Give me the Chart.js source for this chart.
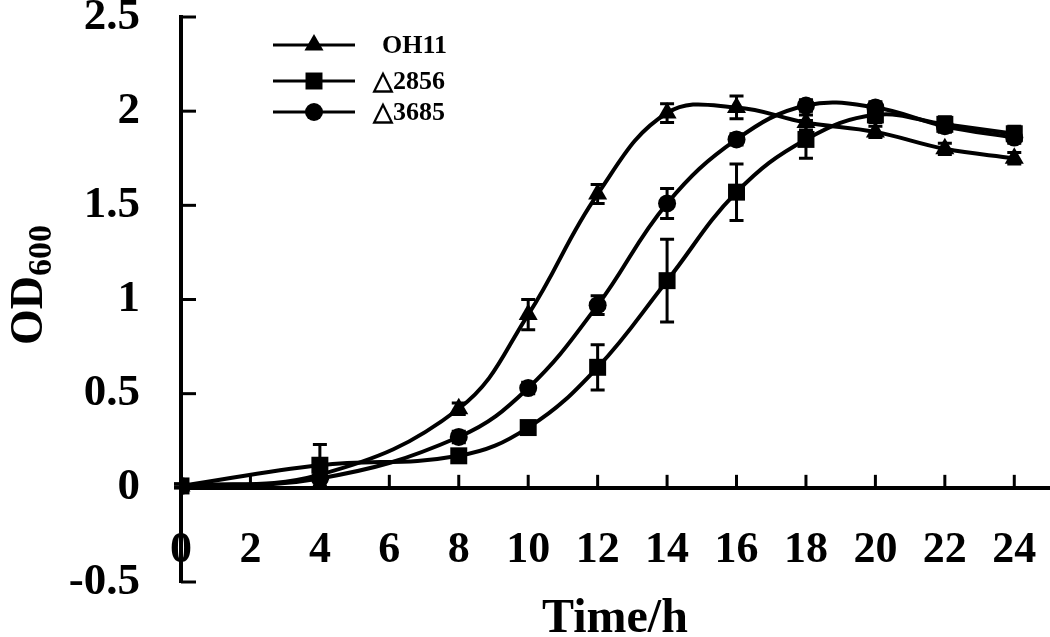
<!DOCTYPE html>
<html>
<head>
<meta charset="utf-8">
<script src="https://cdn.jsdelivr.net/npm/chart.js@4"></script>
<style>
  body { margin: 0; background: #fff; }
</style>
</head>
<body>
<canvas id="myChart" width="1050" height="637"></canvas>
<script>
const times = [0, 4, 8, 10, 12, 14, 16, 18, 20, 22, 24];
const oh11 = [0.01, 0.07, 0.42, 0.92, 1.56, 1.99, 2.02, 1.94, 1.89, 1.80, 1.75];
const d2856 = [0.01, 0.12, 0.17, 0.32, 0.64, 1.10, 1.57, 1.85, 1.98, 1.93, 1.88];
const d3685 = [0.01, 0.05, 0.27, 0.53, 0.97, 1.51, 1.85, 2.03, 2.02, 1.92, 1.86];
const errOh11 = [0.01, 0.02, 0.03, 0.08, 0.05, 0.05, 0.06, 0.04, 0.03, 0.03, 0.03];
const err2856 = [0.01, 0.11, 0.03, 0.03, 0.12, 0.22, 0.15, 0.10, 0.04, 0.04, 0.04];
const err3685 = [0.01, 0.02, 0.03, 0.03, 0.05, 0.08, 0.03, 0.03, 0.03, 0.03, 0.03];
const seriesNames = ['OH11', '\u25B32856', '\u25B33685'];
const xTicks = [0, 2, 4, 6, 8, 10, 12, 14, 16, 18, 20, 22, 24];
const yTicks = [-0.5, 0, 0.5, 1, 1.5, 2, 2.5];

const serif = "'Liberation Serif', 'Times New Roman', serif";
const shapes = ['triangle', 'rect', 'circle'];
const radii = [11, 12, 9];
const errs = [errOh11, err2856, err3685];

function makeSet(label, vals, i) {
  return {
    label: label,
    data: times.map((t, j) => ({x: t, y: vals[j]})),
    borderColor: '#000',
    backgroundColor: '#000',
    borderWidth: 4,
    pointStyle: shapes[i],
    pointRadius: radii[i],
    pointBorderWidth: 0,
    pointBackgroundColor: '#000',
    tension: 0.4
  };
}

// error bars, inward ticks, axis titles and legend
const extras = {
  id: 'extras',
  afterDatasetsDraw(chart) {
    const ctx = chart.ctx;
    const xs = chart.scales.x, ys = chart.scales.y;
    const area = chart.chartArea;
    ctx.save();
    ctx.strokeStyle = '#000';
    ctx.lineWidth = 3;
    chart.data.datasets.forEach((ds, i) => {
      ds.data.forEach((p, j) => {
        const x = xs.getPixelForValue(p.x);
        const top = ys.getPixelForValue(p.y + errs[i][j]);
        const bot = ys.getPixelForValue(p.y - errs[i][j]);
        ctx.beginPath();
        ctx.moveTo(x, top); ctx.lineTo(x, bot);
        ctx.moveTo(x - 7, top); ctx.lineTo(x + 7, top);
        ctx.moveTo(x - 7, bot); ctx.lineTo(x + 7, bot);
        ctx.stroke();
      });
    });

    // ticks pointing into the plot
    const y0 = ys.getPixelForValue(0);
    xTicks.forEach(v => {
      const x = xs.getPixelForValue(v);
      ctx.beginPath(); ctx.moveTo(x, y0); ctx.lineTo(x, y0 - 13); ctx.stroke();
    });
    yTicks.forEach(v => {
      const y = ys.getPixelForValue(v);
      ctx.beginPath(); ctx.moveTo(area.left, y); ctx.lineTo(area.left + 15, y); ctx.stroke();
    });

    // legend
    const rows = [45, 81, 112];
    seriesNames.forEach((name, i) => {
      ctx.lineWidth = 3;
      ctx.beginPath(); ctx.moveTo(273, rows[i]); ctx.lineTo(355, rows[i]); ctx.stroke();
      ctx.fillStyle = '#000';
      Chart.helpers.drawPoint(ctx, {pointStyle: shapes[i], radius: radii[i], borderWidth: 0}, 314, rows[i]);
      ctx.fillStyle = '#000';
      ctx.font = 'bold 26px ' + serif;
      ctx.textBaseline = 'middle';
      ctx.textAlign = 'left';
      ctx.fillText(name, i === 0 ? 382 : 373, rows[i] + 1);
    });

    // x title
    ctx.font = 'bold 48px ' + serif;
    ctx.textAlign = 'center';
    ctx.textBaseline = 'alphabetic';
    ctx.fillText('Time/h', 615, 632);

    // y title with subscript
    ctx.translate(42, 345);
    ctx.rotate(-Math.PI / 2);
    ctx.textAlign = 'left';
    ctx.font = 'bold 46px ' + serif;
    ctx.fillText('OD', 0, 0);
    const w = ctx.measureText('OD').width;
    ctx.font = 'bold 34px ' + serif;
    ctx.fillText('600', w, 9);
    ctx.restore();
  }
};

const config = {
  type: 'line',
  data: {
    datasets: [makeSet(seriesNames[0], oh11, 0), makeSet(seriesNames[1], d2856, 1), makeSet(seriesNames[2], d3685, 2)]
  },
  options: {
    responsive: false,
    animation: false,
    layout: { autoPadding: false, padding: { top: 17, bottom: 55, right: 1, left: 0 } },
    plugins: { legend: { display: false }, tooltip: { enabled: false } },
    scales: {
      x: {
        type: 'linear',
        min: 0,
        max: 25,
        position: { y: 0 },
        afterBuildTicks: s => { s.ticks = xTicks.map(v => ({value: v})); },
        afterFit: s => { s.paddingLeft = 0; s.paddingRight = 0; },
        grid: { drawOnChartArea: false, drawTicks: false },
        border: { display: true, width: 4, color: '#000' },
        ticks: {
          padding: 36,
          color: '#000',
          maxRotation: 0,
          font: { family: serif, size: 44, weight: 'bold' },
          callback: v => String(v)
        }
      },
      y: {
        type: 'linear',
        min: -0.5,
        max: 2.5,
        afterBuildTicks: s => { s.ticks = yTicks.map(v => ({value: v})); },
        afterFit: s => { s.width = 181; s.paddingTop = 0; s.paddingBottom = 0; },
        grid: { drawOnChartArea: false, drawTicks: false },
        border: { display: true, width: 4, color: '#000' },
        ticks: {
          padding: 41,
          color: '#000',
          font: { family: serif, size: 45, weight: 'bold' },
          callback: v => String(v)
        }
      }
    }
  },
  plugins: [extras]
};

const ctx = document.getElementById('myChart').getContext('2d');
const myChart = new Chart(ctx, config);
</script>
</body>
</html>
